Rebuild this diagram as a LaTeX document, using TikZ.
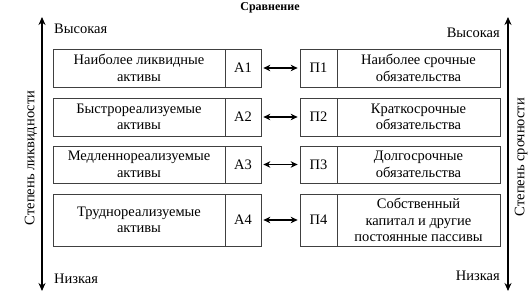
\documentclass[tikz,border=0pt]{standalone}
\usepackage{fontspec}
\setmainfont{Liberation Serif}
\newfontfamily\tms{Liberation Serif}
\usetikzlibrary{arrows.meta}
\begin{document}
\begin{tikzpicture}[x=1pt,y=1pt,
  cell/.style={draw=black!75, line width=0.7pt, inner sep=0pt, align=center,
    font=\tms\fontsize{14.5}{16.5}\selectfont},
  lab/.style={inner sep=0pt, font=\tms\fontsize{14.5}{16.5}\selectfont},
  axis/.style={line width=1.1pt, {Stealth[length=8pt,width=7pt]}-{Stealth[length=8pt,width=7pt]}},
  link/.style={line width=1.2pt, {Stealth[length=7pt,width=6.5pt]}-{Stealth[length=7pt,width=6.5pt]}, shorten <=2pt, shorten >=2pt}]
\useasboundingbox (0,0) rectangle (530,296);
% title
\node[inner sep=0pt, font=\tms\fontsize{12}{14}\bfseries\selectfont] (title) at (270,288) {Сравнение};
% axes
\coordinate (lt) at (42,279);
\coordinate (lb) at (42,5);
\coordinate (rt) at (508,279);
\coordinate (rb) at (508,5);
\draw[axis] (lb) -- (lt);
\draw[axis] (rb) -- (rt);
\node[lab, anchor=west] (lhigh) at (54,267) {Высокая};
\node[lab, anchor=west] (llow) at (54,17) {Низкая};
\node[lab, anchor=east] (rhigh) at (500,263) {Высокая};
\node[lab, anchor=east] (rlow) at (500,20) {Низкая};
\node[lab, rotate=90] (lname) at (31,138) {Степень ликвидности};
\node[lab, rotate=90] (rname) at (521,139) {Степень срочности};
% rows
\foreach \i/\yc/\h/\at/\pt in {
  1/228/38/{Наиболее ликвидные\\активы}/{Наиболее срочные\\обязательства},
  2/179/38/{Быстрореализуемые\\активы}/{Краткосрочные\\обязательства},
  3/131.5/37/{Медленнореализуемые\\активы}/{Долгосрочные\\обязательства},
  4/76/52/{Труднореализуемые\\активы}/{Собственный\\капитал и другие\\постоянные пассивы}}{
  \node[cell, minimum width=172, minimum height=\h] (at\i) at (139,\yc) {\at};
  \node[cell, minimum width=36, minimum height=\h] (a\i) at (243,\yc) {А\i};
  \node[cell, minimum width=37, minimum height=\h] (p\i) at (318.5,\yc) {П\i};
  \node[cell, minimum width=163, minimum height=\h] (pt\i) at (418.5,\yc) {\pt};
  \draw[link] (a\i.east) -- (p\i.west);
}
\end{tikzpicture}
\end{document}
